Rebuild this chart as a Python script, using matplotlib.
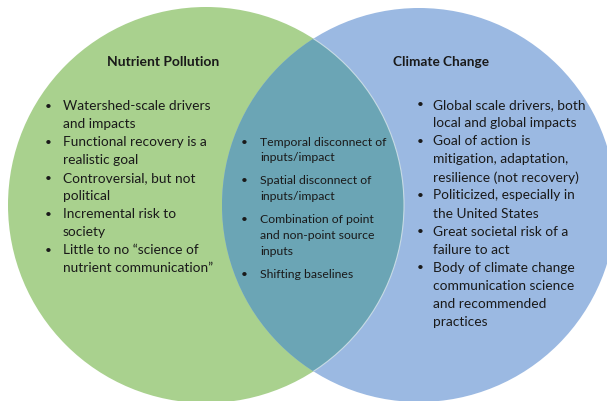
import matplotlib.pyplot as plt
from matplotlib.patches import Circle

W, H = 607, 401

# Circle geometry (pixels)
left_center, left_r = (206, 205), 198
right_center, right_r = (419, 205), 197

green = '#A9D18E'
blue = '#9BB9E2'
teal = '#6BA5B5'
ink = '#1a1a1a'

left_title = 'Nutrient Pollution'
right_title = 'Climate Change'

left_items = [
    ['Watershed-scale drivers', 'and impacts'],
    ['Functional recovery is a', 'realistic goal'],
    ['Controversial, but not', 'political'],
    ['Incremental risk to', 'society'],
    ['Little to no \u201cscience of', 'nutrient communication\u201d'],
]
middle_items = [
    ['Temporal disconnect of', 'inputs/impact'],
    ['Spatial disconnect of', 'inputs/impact'],
    ['Combination of point', 'and non-point source', 'inputs'],
    ['Shifting baselines'],
]
right_items = [
    ['Global scale drivers, both', 'local and global impacts'],
    ['Goal of action is', 'mitigation, adaptation,', 'resilience (not recovery)'],
    ['Politicized, especially in', 'the United States'],
    ['Great societal risk of a', 'failure to act'],
    ['Body of climate change', 'communication science', 'and recommended', 'practices'],
]

plt.rcParams['font.family'] = ['Lato', 'DejaVu Sans']

fig = plt.figure(figsize=(W / 100, H / 100), dpi=100)
ax = fig.add_axes([0, 0, 1, 1])
ax.set_xlim(0, W)
ax.set_ylim(H, 0)
ax.axis('off')

lc = Circle(left_center, left_r, facecolor=green, edgecolor='none', zorder=1)
rc = Circle(right_center, right_r, facecolor=blue, edgecolor='none', zorder=2)
ax.add_patch(lc)
ax.add_patch(rc)
# overlap: right circle clipped to the left one
ov = Circle(right_center, right_r, facecolor=teal, edgecolor='none', zorder=3)
ax.add_patch(ov)
ov.set_clip_path(lc)
# faint light rim along the left circle inside the blue
rim = Circle(left_center, left_r, facecolor='none', edgecolor='#d8e6ea',
             linewidth=0.8, alpha=0.8, zorder=4)
ax.add_patch(rim)
rim.set_clip_path(Circle(right_center, right_r, transform=ax.transData))

ax.text(163, 62, left_title, ha='center', va='center', fontsize=10.0,
        fontweight='bold', color=ink, zorder=5)
ax.text(441, 62, right_title, ha='center', va='center', fontsize=9.8,
        fontweight='bold', color=ink, zorder=5)


def bullets(items, x_dot, x_text, y0, step, gap, size):
    y = y0
    for lines in items:
        ax.text(x_dot, y, '\u2022', ha='center', va='center', fontsize=8.4,
                color=ink, zorder=5)
        for line in lines:
            ax.text(x_text, y, line, ha='left', va='center', fontsize=size,
                    color=ink, zorder=5)
            y += step
        y += gap


bullets(left_items, 48, 63, 106, 18.0, 0, 9.9)
bullets(middle_items, 244, 260, 142, 15.7, 7.5, 8.8)
bullets(right_items, 420, 433, 105, 18.1, 0, 9.9)

fig.savefig('out.png', dpi=100, facecolor='white')
